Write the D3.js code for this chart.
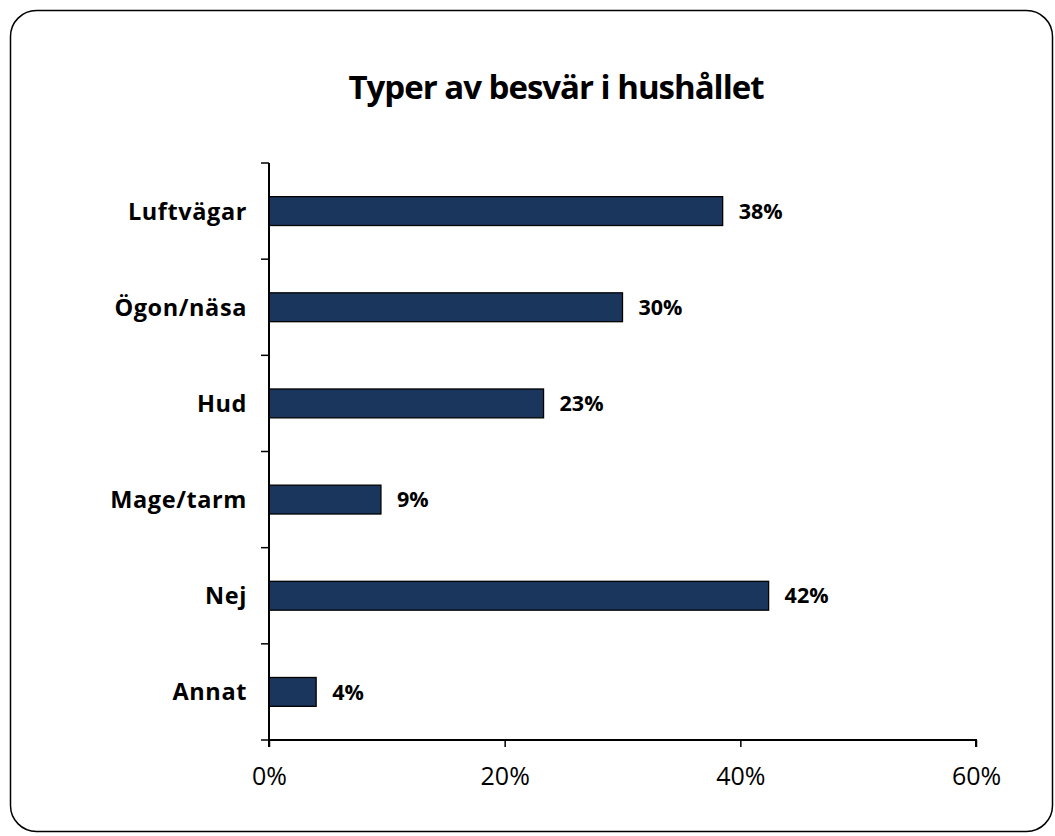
<!DOCTYPE html>
<html>
<head>
<meta charset="utf-8">
<script src="https://cdn.jsdelivr.net/npm/d3@7"></script>
<style>
  body { margin: 0; background: #fff; }
  text { font-family: "Open Sans", "Liberation Sans", sans-serif; }
</style>
</head>
<body>
<svg id="svg1"></svg>
<script>
var categories = ["Luftvägar", "Ögon/näsa", "Hud", "Mage/tarm", "Nej", "Annat"];
var values = [38.5, 30.0, 23.3, 9.5, 42.4, 4.0];
var valueLabels = ["38%", "30%", "23%", "9%", "42%", "4%"];
var xTicks = [0, 20, 40, 60];

var W = 1055, H = 836;
var margin = {top: 163, right: 79, bottom: 96, left: 269};
var width = W - margin.left - margin.right;
var height = H - margin.top - margin.bottom;

var root = d3.select('#svg1')
  .attr('width', W)
  .attr('height', H);

// frame
root.append('rect')
  .attr('x', 10.5).attr('y', 10.5)
  .attr('width', W - 13).attr('height', H - 15)
  .attr('rx', 26).attr('ry', 26)
  .attr('fill', '#fff')
  .attr('stroke', '#000')
  .attr('stroke-width', 1.5);

root.append('text')
  .attr('x', 556)
  .attr('y', 99)
  .attr('text-anchor', 'middle')
  .style('font-size', '33px')
  .style('font-weight', 'bold')
  .style('letter-spacing', '-1px')
  .text('Typer av besvär i hushållet');

var svg = root.append('g')
  .attr('transform', 'translate(' + margin.left + ',' + margin.top + ')');

var x = d3.scaleLinear()
  .domain([0, 60])
  .range([0, width]);

var y = d3.scaleBand()
  .domain(categories)
  .range([0, height])
  .paddingInner(0.7)
  .paddingOuter(0.35);

var data = categories.map(function(c, i) {
  return {category: c, value: values[i], label: valueLabels[i]};
});

svg.selectAll('.bar')
  .data(data)
  .enter()
  .append('rect')
  .attr('class', 'bar')
  .attr('x', x(0))
  .attr('y', function(d) { return y(d.category); })
  .attr('width', function(d) { return x(d.value); })
  .attr('height', y.bandwidth())
  .attr('fill', '#1b365d')
  .attr('stroke', '#000')
  .attr('stroke-width', 1.3);

svg.selectAll('.val')
  .data(data)
  .enter()
  .append('text')
  .attr('class', 'val')
  .attr('x', function(d) { return x(d.value) + 16; })
  .attr('y', function(d) { return y(d.category) + y.bandwidth() / 2; })
  .attr('dy', '0.36em')
  .style('font-size', '21.5px')
  .style('font-weight', 'bold')
  .text(function(d) { return d.label; });

// category labels
svg.selectAll('.cat')
  .data(categories)
  .enter()
  .append('text')
  .attr('class', 'cat')
  .attr('x', -22)
  .attr('y', function(d) { return y(d) + y.bandwidth() / 2; })
  .attr('dy', '0.36em')
  .attr('text-anchor', 'end')
  .style('font-size', '23.5px')
  .style('font-weight', 'bold')
  .style('letter-spacing', '0.6px')
  .text(function(d) { return d; });

// y axis with ticks between categories
var step = height / categories.length;
var yAxis = svg.append('g');
yAxis.append('line')
  .attr('x1', 0).attr('x2', 0)
  .attr('y1', 0).attr('y2', height)
  .attr('stroke', '#000').attr('stroke-width', 2);
yAxis.selectAll('.ytick')
  .data(d3.range(categories.length + 1))
  .enter()
  .append('line')
  .attr('x1', -8).attr('x2', 0)
  .attr('y1', function(i) { return i * step; })
  .attr('y2', function(i) { return i * step; })
  .attr('stroke', '#000').attr('stroke-width', 1.5);

// x axis
var xAxis = svg.append('g')
  .attr('transform', 'translate(0,' + height + ')')
  .call(d3.axisBottom(x).tickValues(xTicks).tickSize(7).tickPadding(20)
    .tickFormat(function(d) { return d + '%'; }));
xAxis.select('.domain').attr('stroke-width', 2).attr('d', 'M0,7V0H' + width + 'V7');
xAxis.selectAll('.tick line').attr('stroke-width', 1.5);
xAxis.selectAll('.tick text')
  .style('font-size', '25px')
  .style('font-family', '"Open Sans", sans-serif')
  .attr('fill', '#000');
</script>
</body>
</html>
